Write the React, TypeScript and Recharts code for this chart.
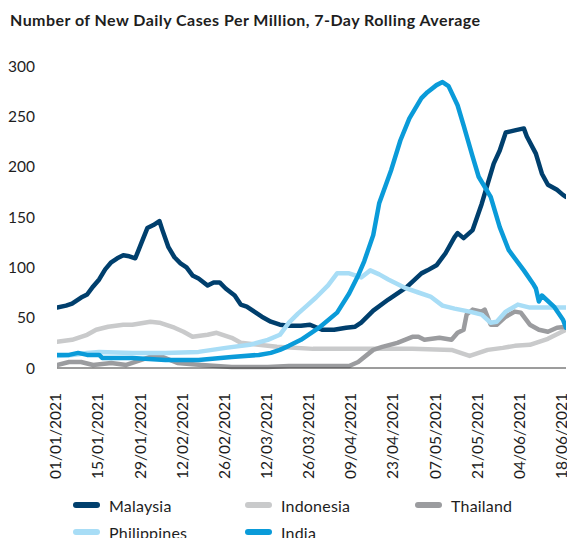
import React from 'react';
import { LineChart, Line, XAxis, YAxis } from 'recharts';

const titleText = 'Number of New Daily Cases Per Million, 7-Day Rolling Average';

const tickDays = [0, 14, 28, 42, 56, 70, 84, 98, 112, 126, 140, 154, 168];
const tickLabels = [
  '01/01/2021', '15/01/2021', '29/01/2021', '12/02/2021', '26/02/2021', '12/03/2021',
  '26/03/2021', '09/04/2021', '23/04/2021', '07/05/2021', '21/05/2021', '04/06/2021', '18/06/2021',
];
const yTicks = [0, 50, 100, 150, 200, 250, 300];

// [day since 01/01/2021, cases per million]
const malaysia: [number, number][] = [
  [0, 60], [3, 62], [5, 64], [8, 70], [10, 73], [12, 81], [14, 88], [16, 98], [18, 105], [20, 109],
  [22, 112], [24, 111], [26, 109], [28, 124], [30, 139], [32, 142], [34, 146], [35, 137], [37, 120],
  [39, 110], [41, 104], [43, 100], [45, 92], [47, 89], [50, 82], [52, 85], [54, 85], [56, 79], [59, 72],
  [61, 63], [63, 61], [66, 55], [68, 51], [71, 46], [74, 43], [77, 42], [81, 42], [84, 43], [88, 38],
  [92, 38], [96, 40], [99, 41], [101, 45], [105, 57], [110, 68], [116, 80], [121, 94], [123, 97],
  [126, 102], [129, 114], [132, 130], [133, 134], [135, 129], [138, 137], [141, 163], [145, 203],
  [147, 216], [149, 234], [152, 236], [155, 238], [156, 230], [159, 213], [161, 193], [163, 182],
  [166, 177], [168, 172], [169, 170],
];
const indonesia: [number, number][] = [
  [0, 26], [5, 28], [10, 33], [13, 38], [17, 41], [22, 43], [25, 43], [31, 46], [34, 45], [39, 40],
  [42, 36], [45, 31], [50, 33], [53, 35], [58, 30], [61, 25], [67, 23], [73, 21], [85, 19], [96, 19],
  [107, 19], [118, 19], [131, 18], [134, 15], [137, 12], [140, 15], [143, 18], [148, 20], [152, 22],
  [157, 23], [160, 26], [163, 29], [167, 35], [169, 38],
];
const thailand: [number, number][] = [
  [0, 3], [4, 6], [8, 6], [12, 3], [18, 5], [23, 3], [28, 8], [31, 11], [35, 11], [40, 5], [48, 3],
  [58, 1], [70, 1], [77, 2], [85, 2], [97, 2], [100, 6], [105, 18], [108, 21], [113, 25], [118, 31],
  [120, 31], [122, 28], [127, 30], [131, 28], [133, 35], [135, 38], [136, 53], [138, 58], [141, 56],
  [142, 58], [144, 43], [146, 43], [149, 51], [152, 56], [154, 55], [157, 43], [160, 38], [163, 36],
  [166, 40], [169, 41],
];
const philippines: [number, number][] = [
  [0, 12], [5, 13], [10, 15], [14, 16], [25, 15], [36, 15], [47, 16], [56, 20], [64, 23], [70, 28],
  [74, 33], [77, 45], [80, 54], [83, 62], [86, 70], [90, 82], [93, 94], [97, 94], [101, 90], [104, 97],
  [107, 93], [110, 88], [116, 79], [120, 75], [124, 71], [128, 62], [132, 59], [137, 56], [141, 53],
  [144, 45], [146, 46], [149, 56], [153, 63], [157, 60], [163, 60], [169, 60],
];
const india: [number, number][] = [
  [0, 13], [4, 13], [7, 15], [10, 13], [14, 13], [15, 10], [25, 10], [36, 8], [47, 8], [58, 11],
  [67, 13], [71, 15], [74, 18], [77, 22], [81, 28], [87, 40], [93, 55], [97, 74], [100, 92], [102, 106],
  [105, 132], [107, 164], [111, 197], [114, 226], [117, 248], [121, 268], [123, 274], [126, 281], [128, 284],
  [130, 280], [133, 261], [135, 241], [138, 210], [140, 190], [144, 170], [147, 140], [150, 117],
  [155, 97], [158, 84], [159, 79], [160, 66], [161, 72], [165, 61], [168, 48], [169, 40],
];

const toRows = (pts: [number, number][]) => pts.map(([day, v]) => ({ day, v }));

const series = [
  { name: 'Malaysia', color: '#003F6D', data: toRows(malaysia) },
  { name: 'Indonesia', color: '#C9CACB', data: toRows(indonesia) },
  { name: 'Thailand', color: '#9B9C9F', data: toRows(thailand) },
  { name: 'Philippines', color: '#A8DDF6', data: toRows(philippines) },
  { name: 'India', color: '#0A9BD9', data: toRows(india) },
];

const FONT = 'Lato, "Open Sans", sans-serif';
const TEXT = '#1e1e1e';

const DateTick = (props: any) => {
  const { x, y, payload } = props;
  const i = tickDays.indexOf(payload.value);
  return (
    <text
      x={x}
      y={y}
      transform={`rotate(-90, ${x}, ${y})`}
      textAnchor="end"
      dy="0.27em"
      fontSize={15.5}
      fontFamily={FONT}
      fill={TEXT}
    >
      {i >= 0 ? tickLabels[i] : ''}
    </text>
  );
};

const legendPos = [
  { left: 73, top: 494 },
  { left: 245, top: 494 },
  { left: 415, top: 494 },
  { left: 73, top: 521 },
  { left: 245, top: 521 },
];

export default function App() {
  return (
    <div style={{ position: 'absolute', left: 0, top: 0, width: 567, height: 538, background: '#fff', overflow: 'hidden' }}>
      <div
        style={{
          position: 'absolute',
          left: 10,
          top: 10,
          fontFamily: FONT,
          fontWeight: 700,
          fontSize: 16,
          letterSpacing: 0.45,
          lineHeight: '19px',
          color: TEXT,
          whiteSpace: 'nowrap',
        }}
      >
        {titleText}
      </div>
      <div style={{ position: 'absolute', left: 0, top: 0 }}>
        <LineChart width={567} height={538} margin={{ top: 66, right: 1, left: 0, bottom: 0 }}>
          <XAxis
            type="number"
            dataKey="day"
            domain={[0, 169]}
            ticks={tickDays}
            interval={0}
            allowDataOverflow
            tick={<DateTick />}
            tickLine={false}
            tickSize={0}
            tickMargin={25}
            axisLine={{ stroke: '#3a3a3a', strokeWidth: 1 }}
            height={170}
          />
          <YAxis
            type="number"
            domain={[0, 300]}
            ticks={yTicks}
            interval={0}
            width={57}
            axisLine={false}
            tickLine={false}
            tickSize={0}
            tickMargin={22}
            tick={{ fontSize: 15.5, fontFamily: FONT, fill: TEXT }}
          />
          {series.map((s) => (
            <Line
              key={s.name}
              data={s.data}
              dataKey="v"
              name={s.name}
              type="linear"
              stroke={s.color}
              strokeWidth={4.5}
              strokeLinejoin="round"
              strokeLinecap="round"
              dot={false}
              activeDot={false}
              isAnimationActive={false}
            />
          ))}
        </LineChart>
      </div>
      {series.map((s, i) => (
        <div
          key={s.name}
          style={{
            position: 'absolute',
            left: legendPos[i].left,
            top: legendPos[i].top,
            height: 22,
            display: 'flex',
            alignItems: 'center',
            fontFamily: FONT,
            fontSize: 16,
            letterSpacing: 0.2,
            color: TEXT,
            whiteSpace: 'nowrap',
          }}
        >
          <span style={{ display: 'inline-block', width: 27, height: 6, borderRadius: 3, background: s.color, marginRight: 9 }} />
          {s.name}
        </div>
      ))}
    </div>
  );
}
